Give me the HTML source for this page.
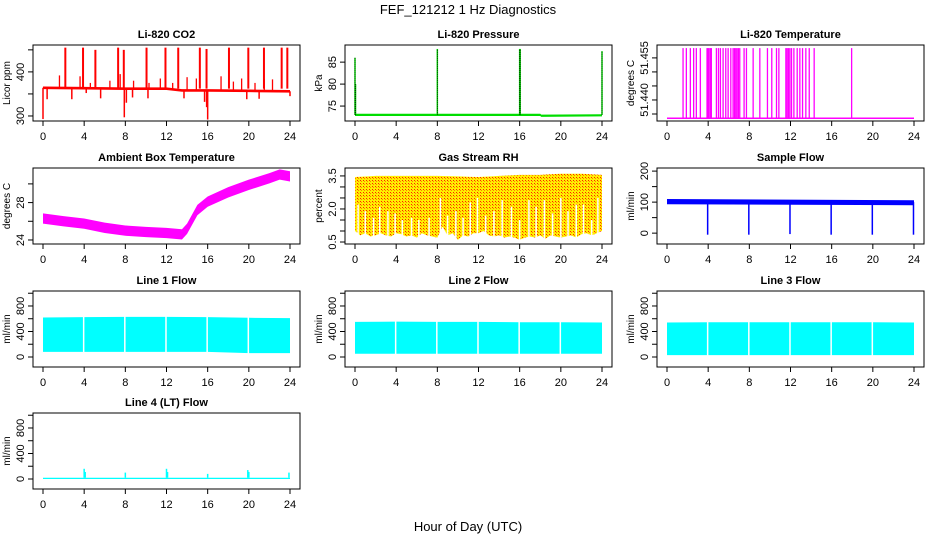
<!DOCTYPE html>
<html><head><meta charset="utf-8"><style>
html,body{margin:0;padding:0;background:#fff}
svg{display:block;font-family:"Liberation Sans",sans-serif}
</style></head><body>
<svg id="c" width="936" height="540" viewBox="0 0 936 540" xmlns="http://www.w3.org/2000/svg">
<defs>
<pattern id="rhpat" width="3" height="3" patternUnits="userSpaceOnUse"><rect width="3" height="3" fill="#ffee00"/><rect width="1" height="1" fill="#ff2000"/><rect x="1" y="1" width="1" height="1" fill="#ff8000"/></pattern>
</defs>
<text x="468" y="14" text-anchor="middle" font-size="13">FEF_121212  1 Hz Diagnostics</text>
<text x="468" y="531" text-anchor="middle" font-size="13">Hour of Day (UTC)</text>
</svg>
<script>
// ---------- data ----------
const xTickHours = [0,4,8,12,16,20,24];
// CO2
const co2BaseHours = [0,4,8,12,13.5,16,20,24];
const co2BaseVals = [364,363,362,362,358,358,357,356];
const co2SpikeHours = [2.17,3.89,5.09,7.3,7.85,10.06,11.9,13.14,15.24,15.89,18.07,19.95,21.47,23.19,23.74];
const co2SpikeVals = [455,455,450,455,450,455,455,455,455,452,455,455,455,455,455];
const co2SmallHours = [1.6,3.6,4.6,6.5,7.5,8.8,10.3,11.4,12.6,14.0,14.9,17.3,18.5,19.3,20.6,21.5,22.3];
const co2SmallVals = [392,390,375,380,395,380,375,385,375,388,385,390,378,385,375,384,383];
const co2DipHours = [0,0.4,2.8,4.2,5.6,7.9,8.1,8.7,10.2,13.7,15.7,15.9,16,19.8,21.0,24];
const co2DipVals = [293,338,338,352,340,297,330,342,340,340,332,320,292,338,339,345];
// Pressure
const presBaseHours = [0,18,18.1,24];
const presBaseVals = [73,73,72.8,72.9];
const presSpikeHours = [0,0.05,8,16,16.05,24];
const presSpikeVals = [86,80,88,88,88,87.5];
// Li-820 temperature
const tempBase = 51.4335;
const tempSpikeTop = 51.4585;
const tempSpikeHours = [1.56,1.88,2.27,2.59,2.85,3.24,3.89,3.99,4.09,4.22,4.31,4.8,5.0,5.19,5.45,5.71,5.94,6.2,6.42,6.55,6.68,6.81,6.94,7.07,7.49,7.72,8.37,9.02,9.76,10.18,10.64,10.87,11.55,11.68,11.81,11.94,12.1,12.33,12.65,12.91,13.17,13.49,13.82,14.3,17.94];
// Ambient box temperature
const ambHours = [0,2,4,6,8,10,12,13.5,14,15,16,18,20,22,23,24];
const ambVals = [26.3,26.0,25.75,25.3,25.0,24.85,24.75,24.6,25.2,27.2,28.1,29.1,29.9,30.6,31.0,30.8];
// RH
const rhHighHours = [0,2,4,6,8,10,12,14,16,18,20,22,24];
const rhHighVals = [3.45,3.5,3.5,3.5,3.5,3.48,3.45,3.5,3.55,3.55,3.6,3.6,3.55];
const rhLowVals = [1.0,0.8,0.9,0.75,0.8,0.9,0.8,0.75,0.9,0.85,0.75,0.8,0.7,0.9,0.8,0.75,0.7,1.2,0.8,0.9,0.6,0.8,0.75,0.9,0.9,1.0,0.8,0.75,0.8,0.7,0.75,0.7,0.6,0.7,0.75,0.7,0.8,0.65,0.8,0.75,0.7,0.75,0.8,0.7,0.85,0.9,0.8,0.9,1.0];
const rhSlitHours = [0.3,1.0,1.8,2.4,3.2,3.9,4.6,5.5,6.2,7.2,8.3,9.0,9.8,10.5,11.2,11.9,12.7,13.5,14.3,15.2,16.0,16.9,17.6,18.4,19.2,20.0,20.7,21.5,22.2,23.0,23.6];
const rhSlitVals = [2.2,1.9,1.6,2.1,1.9,1.8,1.5,1.6,1.5,1.6,2.5,1.7,1.9,1.6,2.3,2.5,1.7,1.9,2.4,2.1,1.5,2.4,2.1,2.4,1.8,2.5,1.9,2.2,2.2,1.5,2.5];
// Sample flow
const sfBase = 100;
const sfBandLo = 93;
const sfBandHi = 110;
const sfDipHours = [3.95,7.95,11.95,15.95,19.95,23.95];
const sfDipVals = [-5,-5,-3,-5,-5,-5];
// Line flows
const flowHours = [0,4,8,12,16,20,24];
const line1High = [620,625,630,630,625,615,610];
const line1Low = [80,80,80,80,80,60,60];
const line2High = [550,555,550,550,545,545,540];
const line2Low = [50,50,50,50,50,50,50];
const line3High = [540,545,545,545,545,545,540];
const line3Low = [30,30,30,30,30,30,30];
const flowGapHours = [3.95,7.95,11.95,15.95,19.95];
const line4Base = 20;
const line4SpikeHours = [4,4.1,8,12,12.1,16,19.9,20,23.9];
const line4SpikeVals = [160,110,100,160,110,80,140,110,100];

// ---------- helpers ----------
const NS = "http://www.w3.org/2000/svg";
const svg = document.getElementById('c');
const colX0 = [43,355,667];
const rowTop = [45,168,291,413];
const PH = 76, XW = 247;
function mk(tag, attrs, parent){
  const e = document.createElementNS(NS, tag);
  for (const k in attrs) e.setAttribute(k, attrs[k]);
  (parent||svg).appendChild(e);
  return e;
}
let clipN = 0;
function panel(key, col, row, title, ylab, yMin, yMax, yTicks, yLabels, yLabelVals){
  const x0 = colX0[col], top = rowTop[row], bot = top + PH;
  const left = x0 - 10, right = x0 + XW + 10;
  const g = mk('g', {});
  
  
  const X = h => x0 + h / 24 * XW;
  const Y = v => bot - (v - yMin) / (yMax - yMin) * PH;
  const t = mk('text', {x:(left+right)/2, y:top-7, 'text-anchor':'middle','font-size':11,'font-weight':'bold'}, g);
  t.textContent = title;
  
  
  const id = 'clip' + (clipN++);
  const cp = mk('clipPath', {id:id}, g);
  mk('rect', {x:left, y:top, width:right-left, height:PH}, cp);
  const plot = mk('g', {'clip-path':'url(#'+id+')'}, g);
  
  
  const xa = mk('g', {}, g);
  
  
  xTickHours.forEach(h => {
    mk('line', {x1:X(h), x2:X(h), y1:bot, y2:bot+5, stroke:'#000'}, xa);
    const l = mk('text', {x:X(h), y:bot+19, 'text-anchor':'middle','font-size':11}, xa);
    l.textContent = h;
  });
  const ya = mk('g', {}, g);
  
  
  yTicks.forEach(v => {
    mk('line', {x1:left-5, x2:left, y1:Y(v), y2:Y(v), stroke:'#000'}, ya);
  });
  yLabels.forEach((s,i) => {
    const yy = Y(yLabelVals ? yLabelVals[i] : Number(s));
    const l = mk('text', {x:left-9, y:yy, 'text-anchor':'middle','font-size':11, transform:'rotate(-90 '+(left-9)+' '+yy+')'}, ya);
    l.textContent = s;
  });
  const yl = mk('text', {x:left-23, y:(top+bot)/2, 'text-anchor':'middle','font-size':10, transform:'rotate(-90 '+(left-23)+' '+((top+bot)/2)+')'}, g);
  yl.textContent = ylab;
  
  
  mk('rect', {x:left, y:top, width:right-left, height:PH, fill:'none', stroke:'#000'}, g);
  return {X, Y, plot};
}
function interp(hs, vs, h){
  for (let i=0;i<hs.length-1;i++){
    if (h<=hs[i+1]) return vs[i] + (vs[i+1]-vs[i])*(h-hs[i])/(hs[i+1]-hs[i]);
  }
  return vs[vs.length-1];
}
function vline(p, h, v1, v2, color, w, name){
  const l = mk('line', {x1:p.X(h), x2:p.X(h), y1:p.Y(v1), y2:p.Y(v2), stroke:color, 'stroke-width':w||1}, p.plot);
  
  
  return l;
}
function band(p, hs, lo, hi, fill, name){
  let d = '';
  hs.forEach((h,i)=>{ d += (i?'L':'M') + p.X(h) + ' ' + p.Y(hi[i]); });
  for (let i=hs.length-1;i>=0;i--) d += 'L' + p.X(hs[i]) + ' ' + p.Y(lo[i]);
  const e = mk('path', {d:d+'Z', fill:fill}, p.plot);
  
  
  return e;
}

// ---------- CO2 ----------
{
  const p = panel('co2', 0, 0, 'Li-820 CO2', 'Licor ppm', 288.6, 461, [300,350,400,450], ['300','400']);
  band(p, co2BaseHours, co2BaseVals.map(v=>v-3), co2BaseVals.map(v=>v+3), '#ff0000', 'co2-baseline');
  co2SpikeHours.forEach((h,i)=>vline(p, h, co2BaseVals[0]-2, co2SpikeVals[i], '#ff0000', 2, 'co2-spike'));
  co2SmallHours.forEach((h,i)=>vline(p, h, interp(co2BaseHours,co2BaseVals,h), co2SmallVals[i], '#ff0000', 1.3, 'co2-small-spike'));
  co2DipHours.forEach((h,i)=>vline(p, h, interp(co2BaseHours,co2BaseVals,h), co2DipVals[i], '#ff0000', 1.5, 'co2-dip'));
}
// ---------- Pressure ----------
{
  const p = panel('pressure', 1, 0, 'Li-820 Pressure', 'kPa', 71.6, 88.9, [75,80,85], ['75','80','85']);
  band(p, presBaseHours, presBaseVals.map(v=>v-0.25), presBaseVals.map(v=>v+0.25), '#00dd00', 'pressure-baseline');
  presSpikeHours.forEach((h,i)=>vline(p, h, presBaseVals[0], presSpikeVals[i], '#00cc00', 1.5, 'pressure-spike'));
  presSpikeHours.forEach((h,i)=>{const l=vline(p, h, presBaseVals[0], presSpikeVals[i], '#000', 0.6, 'pressure-spike-dots'); l.setAttribute('stroke-dasharray','1 1');});
}
// ---------- Li-820 temperature ----------
{
  const p = panel('li820-temp', 2, 0, 'Li-820 Temperature', 'degrees C', 51.4325, 51.4596, [51.435,51.44,51.445,51.45,51.455], ['51.440','51.455'], [51.44,51.455]);
  const b = mk('line', {x1:p.X(0), x2:p.X(24), y1:p.Y(tempBase), y2:p.Y(tempBase), stroke:'#ff00ff', 'stroke-width':1.5}, p.plot);
  
  
  tempSpikeHours.forEach(h=>vline(p, h, tempBase, tempSpikeTop, '#ff00ff', 1.3, 'temp-spike'));
}
// ---------- Ambient ----------
{
  const p = panel('ambient', 0, 1, 'Ambient Box Temperature', 'degrees C', 23.57, 31.7, [24,26,28,30], ['24','28']);
  band(p, ambHours, ambVals.map(v=>v-0.55), ambVals.map(v=>v+0.55), '#ff00ff', 'ambient-series');
}
// ---------- RH ----------
{
  const p = panel('rh', 1, 1, 'Gas Stream RH', 'percent', 0.41, 3.86, [0.5,1,1.5,2,2.5,3,3.5], ['0.5','2.0','3.5']);
  const lowHours = rhLowVals.map((v,i)=>i*0.5);
  const hiOnLow = lowHours.map(h=>interp(rhHighHours,rhHighVals,h));
  band(p, lowHours, rhLowVals, hiOnLow, 'url(#rhpat)', 'rh-series');
  rhSlitHours.forEach((h,i)=>vline(p, h, 0.3, rhSlitVals[i], '#ffffff', 1.5, 'rh-gap'));
}
// ---------- Sample flow ----------
{
  const p = panel('sample-flow', 2, 1, 'Sample Flow', 'ml/min', -35, 210, [0,50,100,150,200], ['0','100','200']);
  band(p, [0,24], [sfBandLo,sfBandLo-3], [sfBandHi,sfBandHi-4], '#0000ff', 'sample-flow-series');
  sfDipHours.forEach((h,i)=>vline(p, h, sfBase, sfDipVals[i], '#0000ff', 1.5, 'sample-flow-dip'));
}
// ---------- Line flows ----------
function flowPanel(key, col, row, title, hi, lo){
  const p = panel(key, col, row, title, 'ml/min', -157, 1035, [0,200,400,600,800,1000], ['0','400','800']);
  band(p, flowHours, lo, hi, '#00ffff', key + '-series');
  flowGapHours.forEach(h=>vline(p, h, -50, 1000, '#ffffff', 1.5, key + '-gap'));
  return p;
}
flowPanel('line1-flow', 0, 2, 'Line 1 Flow', line1High, line1Low);
flowPanel('line2-flow', 1, 2, 'Line 2 Flow', line2High, line2Low);
flowPanel('line3-flow', 2, 2, 'Line 3 Flow', line3High, line3Low);
{
  const p = panel('line4-flow', 0, 3, 'Line 4 (LT) Flow', 'ml/min', -157, 1035, [0,200,400,600,800,1000], ['0','400','800']);
  band(p, [0,24], [0,0], [line4Base,line4Base], '#00ffff', 'line4-flow-series');
  line4SpikeHours.forEach((h,i)=>vline(p, h, line4Base, line4SpikeVals[i], '#00ffff', 1.5, 'line4-flow-spike'));
}
</script>
</body></html>
